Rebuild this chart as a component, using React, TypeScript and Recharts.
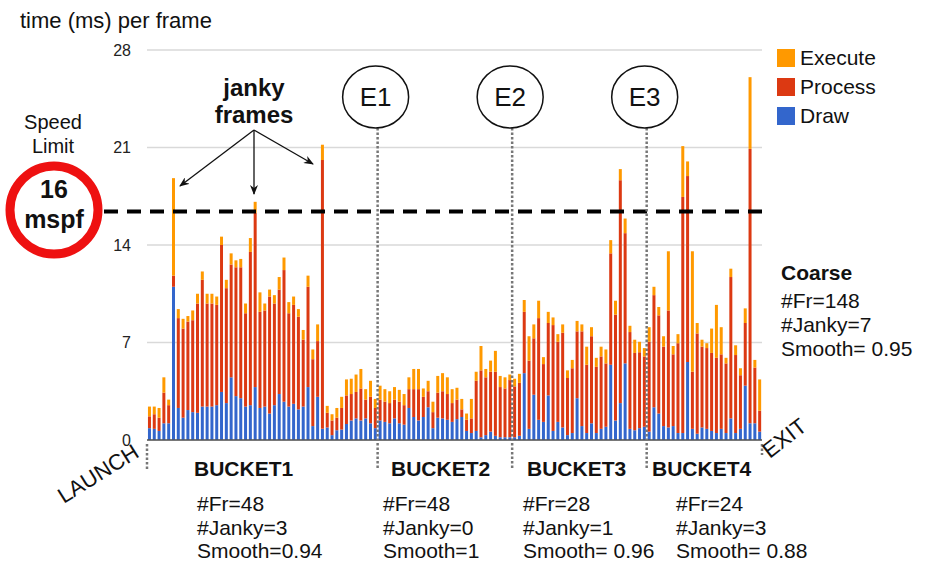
import React from 'react'
import { BarChart, Bar, XAxis, YAxis, CartesianGrid, ReferenceLine, Legend } from 'recharts'

// ms per frame, split by stage, one entry per frame (128 frames)
const drawMs = [
  0.85, 0.8, 0.65, 1.2, 1.2, 11.0, 2.3, 1.6, 2.15, 2.0, 1.95, 2.4, 2.4, 2.4, 2.5, 3.45,
  2.65, 4.5, 3.15, 3.0, 2.4, 2.5, 3.8, 2.3, 2.4, 1.9, 2.5, 3.3, 2.75, 2.4, 2.6, 2.2,
  2.4, 3.8, 1.0, 3.1, 0.8, 0.9, 0.35, 0.7, 0.75, 1.15, 1.4, 1.55, 1.4, 1.55, 1.2, 0.85,
  1.4, 1.3, 1.2, 1.55, 1.2, 1.1, 2.3, 1.65, 1.4, 1.65, 2.35, 0.85, 1.6, 1.55, 1.45, 1.3,
  1.5, 1.65, 0.65, 0.5, 0.65, 0.2, 0.35, 0.6, 0.3, 0.2, 0.2, 0.2, 0.2, 0.3, 4.8, 0.8,
  3.25, 1.45, 1.3, 3.2, 0.65, 1.3, 0.9, 0.35, 0.5, 3.0, 1.0, 0.5, 1.2, 0.5, 0.8, 0.95,
  5.4, 1.4, 2.65, 5.5, 0.8, 0.7, 0.85, 0.95, 0.6, 2.35, 1.9, 1.0, 0.9, 1.0, 0.5, 0.5,
  5.6, 0.8, 0.45, 0.9, 0.8, 0.65, 0.5, 0.8, 0.5, 1.55, 0.5, 0.8, 3.9, 1.2, 1.2, 0.6,
]

const processMs = [
  0.85, 1.05, 0.95, 2.2, 1.3, 0.8, 6.45, 6.4, 6.35, 6.6, 7.85, 9.1, 7.4, 7.4, 7.2, 10.55,
  8.25, 8.1, 9.25, 9.4, 6.7, 11.0, 12.5, 6.9, 6.9, 8.4, 7.3, 7.5, 9.45, 6.7, 7.1, 6.65,
  4.8, 7.2, 4.8, 4.0, 19.3, 1.05, 1.05, 0.9, 1.55, 2.05, 1.9, 1.9, 2.3, 1.35, 1.9, 1.45,
  1.5, 1.45, 1.45, 1.35, 1.55, 1.4, 1.35, 2.0, 2.25, 1.45, 1.15, 1.15, 1.8, 1.95, 1.85, 1.35,
  1.4, 0.55, 0.8, 1.05, 3.6, 4.8, 4.15, 4.3, 4.6, 3.6, 3.5, 4.1, 3.65, 3.8, 4.4, 4.9,
  4.05, 7.3, 4.15, 5.2, 7.6, 5.75, 6.8, 4.1, 4.65, 4.8, 6.8, 4.9, 6.25, 4.75, 5.2, 4.55,
  8.0, 7.6, 16.0, 9.35, 6.95, 5.55, 5.45, 5.05, 6.45, 8.05, 7.05, 5.7, 8.4, 5.15, 6.45, 16.95,
  13.35, 4.1, 7.2, 5.8, 5.8, 5.6, 5.4, 5.35, 5.0, 10.15, 5.6, 3.85, 4.5, 19.7, 4.0, 1.5,
]

const executeMs = [
  0.7, 0.55, 0.7, 1.1, 0.4, 7.0, 0.65, 0.7, 0.4, 0.7, 0.7, 0.6, 0.7, 0.7, 0.6, 0.6,
  0.6, 0.8, 0.5, 0.6, 0.7, 1.0, 0.8, 1.4, 0.5, 0.5, 0.6, 0.9, 0.9, 0.8, 0.6, 0.55,
  0.7, 0.8, 0.7, 1.2, 1.1, 0.5, 0.45, 0.7, 0.8, 1.15, 1.1, 1.25, 1.4, 0.75, 1.15, 0.65,
  1.0, 0.9, 0.85, 0.9, 0.85, 0.8, 0.85, 1.45, 1.45, 0.6, 0.75, 0.75, 1.2, 1.3, 1.2, 1.0,
  0.85, 0.75, 0.45, 1.4, 0.65, 1.75, 0.6, 0.8, 1.5, 0.8, 0.8, 0.4, 0.55, 0.65, 0.85, 1.75,
  1.0, 1.25, 0.5, 0.8, 0.55, 0.55, 0.6, 0.55, 0.6, 0.75, 0.5, 1.3, 0.65, 0.65, 0.7, 1.0,
  0.95, 1.0, 0.8, 1.05, 0.45, 0.95, 0.75, 0.6, 1.05, 0.6, 0.6, 0.75, 4.25, 0.6, 0.65, 3.65,
  1.05, 8.65, 0.75, 0.5, 0.35, 1.75, 3.8, 1.95, 0.4, 0.6, 0.7, 0.5, 1.05, 5.15, 0.55, 2.25,
]

const yTicks = [0, 7, 14, 21, 28]
const speedLimitMs = 16.4
const legendOrder = ['Execute', 'Process', 'Draw']

// first frame of each bucket after the launch
const events = [
  { frame: 48, label: 'E1' },
  { frame: 76, label: 'E2' },
  { frame: 104, label: 'E3' },
]

const buckets = [
  { name: 'BUCKET1', frames: 48, janky: 3, smooth: '0.94' },
  { name: 'BUCKET2', frames: 48, janky: 0, smooth: '1' },
  { name: 'BUCKET3', frames: 28, janky: 1, smooth: ' 0.96' },
  { name: 'BUCKET4', frames: 24, janky: 3, smooth: ' 0.88' },
]

const coarse = { frames: 148, janky: 7, smooth: ' 0.95' }

const COLORS = { draw: '#3366cc', process: '#dc3912', execute: '#ff9900' }
const FONT = '"Liberation Sans", Arial, sans-serif'

const data = drawMs.map((d, i) => ({
  frame: i,
  draw: d,
  process: processMs[i],
  execute: executeMs[i],
}))

function EventMarker(props: any) {
  const { x1, y1, y2, label } = props
  const top = Math.min(y1, y2)
  const bottom = Math.max(y1, y2)
  return (
    <g>
      <line x1={x1} x2={x1} y1={top + 78} y2={bottom + 30} stroke="#777" strokeWidth={2.5} strokeDasharray="2.5 2" />
      <ellipse cx={x1 - 2} cy={top + 47} rx={33} ry={31} fill="#fff" stroke="#111" strokeWidth={1.5} />
      <text x={x1 - 2} y={top + 56} textAnchor="middle" fontSize={26} fontFamily={FONT} fill="#111">
        {label}
      </text>
    </g>
  )
}

function EdgeMarker(props: any) {
  const { x1, y1, y2, len } = props
  const bottom = Math.max(y1, y2)
  return <line x1={x1} x2={x1} y1={bottom + 4} y2={bottom + len} stroke="#777" strokeWidth={2.5} strokeDasharray="2.5 2" />
}

function SpeedLimit(props: any) {
  const { x1, x2, y1 } = props
  return (
    <line x1={Math.min(x1, x2) - 43} x2={Math.max(x1, x2) + 3} y1={y1} y2={y1} stroke="#000" strokeWidth={4} strokeDasharray="14 9" />
  )
}

function LegendBox(props: any) {
  const items = [...(props.payload || [])].sort(
    (a: any, b: any) => legendOrder.indexOf(a.value) - legendOrder.indexOf(b.value)
  )
  return (
    <div style={{ fontFamily: FONT }}>
      {items.map((p: any) => (
        <div key={p.value} style={{ display: 'flex', alignItems: 'center', height: 29 }}>
          <span style={{ width: 18, height: 18, background: p.color, display: 'inline-block', marginRight: 5 }} />
          <span style={{ fontSize: 21, color: '#111', lineHeight: 1 }}>{p.value}</span>
        </div>
      ))}
    </div>
  )
}

export default function App() {
  return (
    <div style={{ position: 'absolute', left: 0, top: 0, width: 926, height: 565, background: '#fff', fontFamily: FONT }}>
      <BarChart
        width={926}
        height={565}
        data={data}
        margin={{ top: 50, right: 164, bottom: 125, left: 0 }}
        barCategoryGap="20%"
      >
        <CartesianGrid vertical={false} stroke="#d9d9d9" strokeWidth={1.5} />
        <XAxis dataKey="frame" hide />
        <YAxis
          domain={[0, 28]}
          ticks={yTicks}
          interval={0}
          width={147}
          axisLine={false}
          tickLine={false}
          tickMargin={10}
          tick={{ fontSize: 16, fill: '#222', fontFamily: FONT }}
        />
        <Bar dataKey="draw" name="Draw" stackId="f" fill={COLORS.draw} isAnimationActive={false} />
        <Bar dataKey="process" name="Process" stackId="f" fill={COLORS.process} isAnimationActive={false} />
        <Bar dataKey="execute" name="Execute" stackId="f" fill={COLORS.execute} isAnimationActive={false} />
        <ReferenceLine y={0} stroke="#555" strokeWidth={1.5} />
        <ReferenceLine y={speedLimitMs} shape={(p: any) => <SpeedLimit {...p} />} />
        <ReferenceLine x={0} position="start" shape={(p: any) => <EdgeMarker {...p} len={30} />} />
        <ReferenceLine x={data.length - 1} position="end" shape={(p: any) => <EdgeMarker {...p} len={15} />} />
        {events.map((e) => (
          <ReferenceLine key={e.label} x={e.frame} position="start" shape={(p: any) => <EventMarker {...p} label={e.label} />} />
        ))}
        <Legend
          layout="vertical"
          align="center"
          verticalAlign="middle"
          wrapperStyle={{ left: 777, top: 43, width: 150 }}
          content={<LegendBox />}
        />
      </BarChart>

      <svg width={926} height={565} style={{ position: 'absolute', left: 0, top: 0, pointerEvents: 'none' }} fontFamily={FONT}>
        <defs>
          <marker id="arr" markerWidth="10" markerHeight="8" refX="9" refY="4" orient="auto" markerUnits="userSpaceOnUse">
            <path d="M0,0 L10,4 L0,8 L3,4 Z" fill="#111" />
          </marker>
        </defs>
        <text x={20} y={28} fontSize={22} fill="#111">time (ms) per frame</text>

        <text x={53} y={129} fontSize={20} textAnchor="middle" fill="#111">Speed</text>
        <text x={53} y={153} fontSize={20} textAnchor="middle" fill="#111">Limit</text>
        <circle cx={54} cy={210} r={44} fill="#fff" stroke="#ee1111" strokeWidth={9} />
        <text x={54} y={198} fontSize={25} fontWeight="bold" textAnchor="middle" fill="#111">16</text>
        <text x={54} y={228} fontSize={25} fontWeight="bold" textAnchor="middle" fill="#111">mspf</text>

        <text x={254} y={96} fontSize={24} fontWeight="bold" textAnchor="middle" fill="#111">janky</text>
        <text x={254} y={123} fontSize={24} fontWeight="bold" textAnchor="middle" fill="#111">frames</text>
        <line x1={254} y1={130} x2={180} y2={186} stroke="#111" strokeWidth={1.3} markerEnd="url(#arr)" />
        <line x1={254} y1={130} x2={254} y2={194} stroke="#111" strokeWidth={1.3} markerEnd="url(#arr)" />
        <line x1={254} y1={130} x2={313} y2={164} stroke="#111" strokeWidth={1.3} markerEnd="url(#arr)" />

        <text x={102} y={480} fontSize={22} textAnchor="middle" fill="#111" transform="rotate(-32 102 480)">LAUNCH</text>
        <text x={789} y={444} fontSize={22} textAnchor="middle" fill="#111" transform="rotate(-38 789 444)">EXIT</text>

        {buckets.map((b, i) => {
          const titleX = [194, 391, 527, 652][i]
          const statX = [197, 383, 523, 676][i]
          return (
            <g key={b.name} fill="#111">
              <text x={titleX} y={476} fontSize={21} fontWeight="bold">{b.name}</text>
              <text x={statX} y={511} fontSize={21}>#Fr={b.frames}</text>
              <text x={statX} y={535} fontSize={21}>#Janky={b.janky}</text>
              <text x={statX} y={558} fontSize={21}>Smooth={b.smooth}</text>
            </g>
          )
        })}

        <g fill="#111">
          <text x={781} y={280} fontSize={21} fontWeight="bold">Coarse</text>
          <text x={781} y={308} fontSize={21}>#Fr={coarse.frames}</text>
          <text x={781} y={332} fontSize={21}>#Janky={coarse.janky}</text>
          <text x={781} y={356} fontSize={21}>Smooth={coarse.smooth}</text>
        </g>
      </svg>
    </div>
  )
}
